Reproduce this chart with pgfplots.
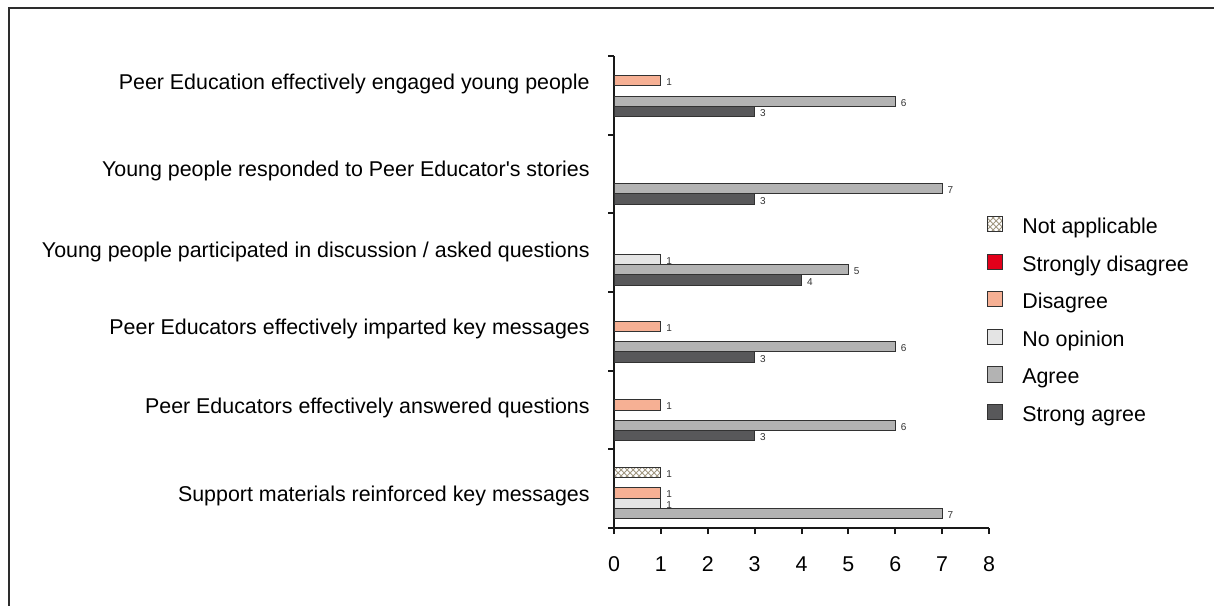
\documentclass[border=0pt]{standalone}
\usepackage{fontspec}
\setmainfont{Liberation Sans}
\usepackage{pgfplots}
\pgfplotsset{compat=1.18}
\usetikzlibrary{patterns}
\definecolor{cPat}{RGB}{160,150,128}
\definecolor{cSD}{RGB}{226,0,26}
\definecolor{cDis}{RGB}{246,176,148}
\definecolor{cNO}{RGB}{228,228,228}
\definecolor{cAg}{RGB}{179,179,179}
\definecolor{cSA}{RGB}{88,88,90}
\definecolor{cBord}{RGB}{50,50,50}
\definecolor{cAxis}{RGB}{25,25,25}
\definecolor{cFrame}{RGB}{45,45,45}
\begin{document}
\begin{tikzpicture}
\useasboundingbox (0,0) rectangle (607pt,302.5pt);
\draw[cFrame, line width=0.8pt] (4.5pt,-2pt) -- (4.5pt,298.5pt) -- (610pt,298.5pt);
\begin{axis}[
  at={(307pt,38.5pt)}, anchor=south west,
  scale only axis, width=187.5pt, height=236pt,
  xbar, bar width=5.15pt,
  xmin=0, xmax=8, ymin=-0.5, ymax=5.5,
  clip=false,
  /pgf/number format/assume math mode=true,
  xtick={0,...,8},
  ytick={-0.5,0.5,1.5,2.5,3.5,4.5,5.5}, yticklabels={},
  extra y ticks={5.12,4.01,2.98,2.00,1.00,-0.12},
  extra y tick labels={{Peer Education effectively engaged young people},{Young people responded to Peer Educator\textquotesingle s stories},{Young people participated in discussion / asked questions},{Peer Educators effectively imparted key messages},{Peer Educators effectively answered questions},{Support materials reinforced key messages}},
  extra y tick style={tick style={draw=none}},
  axis x line*=bottom, axis y line*=left,
  axis line style={cAxis, line width=1pt},
  tick style={cAxis, line width=1pt},
  tick align=outside, major tick length=3pt,
  tick label style={font=\fontsize{10.7}{12.8}\selectfont},
  xticklabel style={anchor=base, inner sep=0pt, yshift=-18.5pt},
  yticklabel style={anchor=base east, inner sep=0pt, xshift=-9pt, yshift=-1.8pt},
  nodes near coords,
  nodes near coords style={font=\fontsize{5}{6}\selectfont, text=cBord, anchor=west, inner sep=0pt, xshift=2.5pt, yshift=-0.8pt},
  every axis plot/.append style={draw=cBord, line width=0.5pt},
  legend image code/.code={\draw[#1] (0.25pt,0.9pt) rectangle (7.6pt,8.5pt);},
  legend cell align=left,
  legend style={at={(0.9947,0.6621)}, anchor=north west, draw=none, fill=none,
    inner sep=0pt, outer sep=0pt, row sep=7.3pt, column sep=9.8pt,
    font=\fontsize{10.7}{12.8}\selectfont,
    nodes={inner sep=0pt, anchor=base west, text height=9pt, text depth=2.5pt}},
]
% Not applicable
\addplot[bar shift=12.875pt, draw=cBord, pattern=crosshatch, pattern color=cPat]
  coordinates {(1,-0.12)};
\addlegendentry{Not applicable}
% Strongly disagree (no responses)
\addlegendimage{draw=cBord, fill=cSD, line width=0.5pt}
\addlegendentry{Strongly disagree}
% Disagree
\addplot[bar shift=2.575pt, draw=cBord, fill=cDis]
  coordinates {(1,5.12) (1,2.00) (1,1.00) (1,-0.12)};
\addlegendentry{Disagree}
% No opinion
\addplot[bar shift=-2.575pt, draw=cBord, fill=cNO]
  coordinates {(1,2.98) (1,-0.12)};
\addlegendentry{No opinion}
% Agree
\addplot[bar shift=-7.725pt, draw=cBord, fill=cAg]
  coordinates {(6,5.12) (7,4.01) (5,2.98) (6,2.00) (6,1.00) (7,-0.12)};
\addlegendentry{Agree}
% Strong agree
\addplot[bar shift=-12.875pt, draw=cBord, fill=cSA]
  coordinates {(3,5.12) (3,4.01) (4,2.98) (3,2.00) (3,1.00)};
\addlegendentry{Strong agree}
\end{axis}
\end{tikzpicture}
\end{document}
